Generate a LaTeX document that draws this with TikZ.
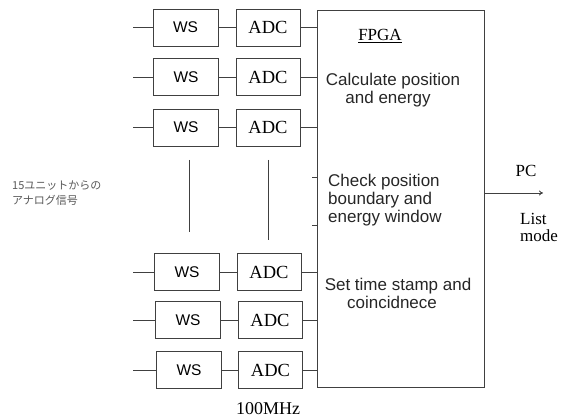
\documentclass[tikz,border=0pt]{standalone}
\usepackage{fontspec}
\setmainfont{Liberation Serif}
\setsansfont{Liberation Sans}
\newfontfamily\jpfont{Noto Sans CJK JP}
\usetikzlibrary{arrows.meta}
\tikzset{
  wire/.style={draw=black!75, line width=0.9pt},
  wsbox/.style={draw=black!75, line width=0.9pt, minimum width=65pt, minimum height=37pt, inner sep=0pt, font=\sffamily\fontsize{15.5}{15.5}\selectfont},
  adcbox/.style={draw=black!75, line width=0.9pt, minimum width=64pt, minimum height=37pt, inner sep=0pt, font=\fontsize{18.5}{18.5}\selectfont},
  fpgatxt/.style={inner sep=0pt, font=\sffamily\fontsize{17}{17}\selectfont, text=black!85},
  sertxt/.style={inner sep=0pt, font=\fontsize{17}{17}\selectfont},
  jptxt/.style={inner sep=0pt, font=\jpfont\fontsize{11}{11}\selectfont, text=black!65}
}
\begin{document}
\begin{tikzpicture}[x=1pt,y=-1pt]
\useasboundingbox (0,0) rectangle (565,419);

% FPGA block
\node[draw=black!75, line width=0.9pt, minimum width=167pt, minimum height=377pt, inner sep=0pt, anchor=north west] (fpga) at (317,10) {};

% rows
\foreach \i/\y/\wx/\ax in {1/27.5/185.5/268, 2/77/186/268, 3/127.5/186/268, 4/272/187/269, 5/320/188/270, 6/370/189/270.5}{
  \node[wsbox] (ws\i) at (\wx,\y) {WS};
  \node[adcbox] (adc\i) at (\ax,\y) {ADC};
  \coordinate (in\i) at (133,\y);
  \draw[wire] (in\i) -- (ws\i.west);
  \draw[wire] (ws\i.east) -- (adc\i.west);
  \draw[wire] (adc\i.east) -- (adc\i.east -| fpga.west);
}

% continuation lines
\coordinate (v1a) at (189,160); \coordinate (v1b) at (189,232);
\coordinate (v2a) at (268,160); \coordinate (v2b) at (268,240);
\draw[wire] (v1a) -- (v1b);
\draw[wire] (v2a) -- (v2b);
\coordinate (t1) at (312,177); \coordinate (t2) at (312,225);
\draw[wire] (t1) -- (t1 -| fpga.west);
\draw[wire] (t2) -- (t2 -| fpga.west);

% FPGA texts
\node[sertxt, anchor=mid] (ftitle) at (380,38) {\underline{FPGA}};
\node[fpgatxt, anchor=mid] (c1) at (393,83) {Calculate position};
\node[fpgatxt, anchor=mid] (c2) at (388,101) {and energy};
\node[fpgatxt, anchor=mid west] (k1) at (328,184) {Check position};
\node[fpgatxt, anchor=mid west] (k2) at (328,202) {boundary and};
\node[fpgatxt, anchor=mid west] (k3) at (328,220) {energy window};
\node[fpgatxt, anchor=mid] (s1) at (398,288) {Set time stamp and};
\node[fpgatxt, anchor=mid] (s2) at (392,306) {coincidnece};

% output
\coordinate (pcend) at (543,193);
\draw[wire, -{To[length=4pt,width=5pt]}] (fpga.east |- pcend) -- (pcend);
\node[sertxt, anchor=mid] (pc) at (526,174) {PC};
\node[sertxt, anchor=mid west] (l1) at (520,222) {List};
\node[sertxt, anchor=mid west] (l2) at (520,239) {mode};

% clock
\node[sertxt, font=\fontsize{18}{18}\selectfont, anchor=mid] (clk) at (268,412) {100MHz};

% input label
\node[jptxt, anchor=mid west] (j1) at (12,187) {15ユニットからの};
\node[jptxt, anchor=mid west] (j2) at (12,202) {アナログ信号};
\end{tikzpicture}
\end{document}
